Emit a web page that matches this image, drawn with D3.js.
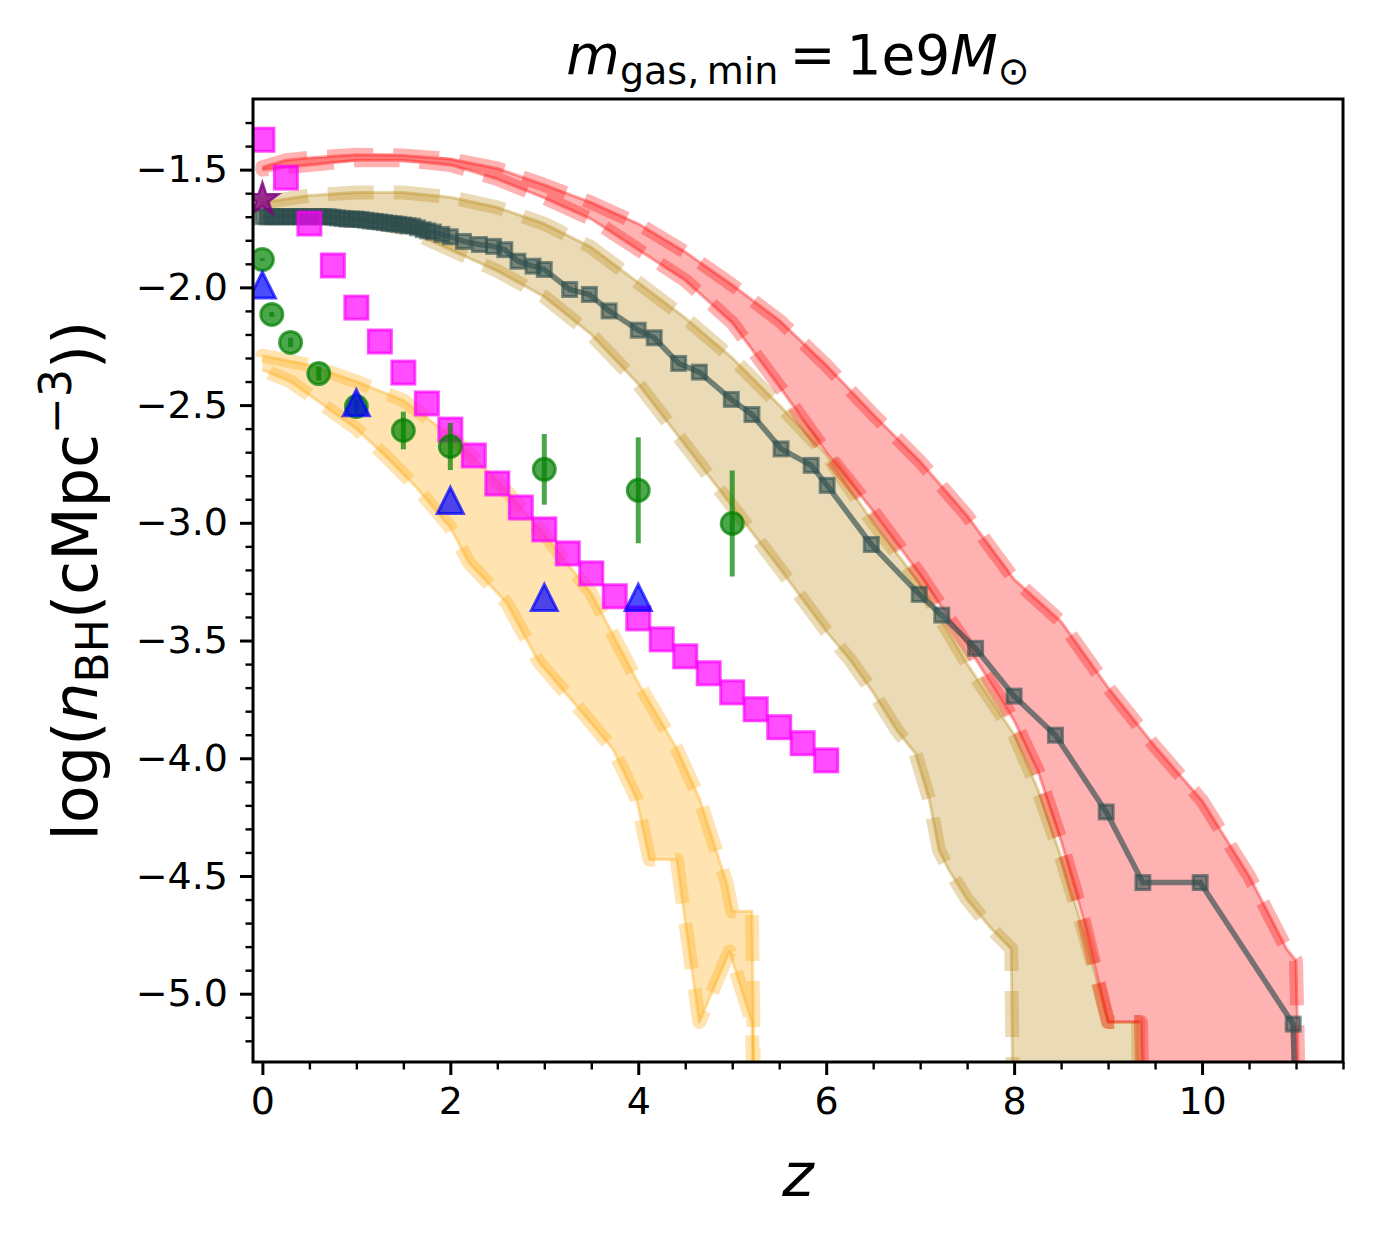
<!DOCTYPE html>
<html>
<head>
<meta charset="utf-8">
<script src="https://cdn.jsdelivr.net/npm/d3@7"></script>
<style>
  body { margin: 0; background: #fff; }
  text { font-family: "DejaVu Sans", sans-serif; }
</style>
</head>
<body>
<div id="chart"></div>
<script>
// band edges [z, log n]
const redUpper = [[0,-1.49],[0.25,-1.46],[0.5,-1.45],[1.0,-1.437],[1.5,-1.44],[2.0,-1.455],[2.5,-1.495],[3.0,-1.565],
  [3.5,-1.64],[4.0,-1.73],[4.5,-1.85],[5.0,-1.99],[5.5,-2.14],[6.0,-2.33],[6.5,-2.54],[7.0,-2.74],[7.5,-2.97],
  [8.0,-3.24],[8.5,-3.42],[9.0,-3.70],[9.5,-3.95],[10.0,-4.18],[10.5,-4.50],[10.9,-4.81],[11.0,-4.86],[11.06,-6.0]];
const redLower = [[0,-1.50],[0.5,-1.48],[1.0,-1.46],[1.5,-1.46],[2.0,-1.48],[2.5,-1.54],[3.0,-1.62],[3.5,-1.71],
  [4.0,-1.84],[4.5,-1.97],[5.0,-2.15],[5.5,-2.42],[6.0,-2.70],[6.5,-2.95],[7.0,-3.22],[7.5,-3.52],[8.0,-3.84],
  [8.25,-4.05],[8.5,-4.35],[8.75,-4.70],[9.0,-5.12],[9.35,-5.12],[9.4,-6.0]];
const tanUpper = [[0,-1.64],[0.5,-1.61],[1.0,-1.597],[1.5,-1.597],[2.0,-1.617],[2.5,-1.66],[3.0,-1.73],[3.5,-1.83],
  [4.0,-1.98],[4.5,-2.13],[5.0,-2.30],[5.5,-2.50],[6.0,-2.71],[6.5,-3.0],[7.0,-3.26],[7.5,-3.60],[8.0,-3.90],
  [8.25,-4.13],[8.5,-4.42],[8.75,-4.75],[9.0,-5.12],[9.32,-5.12],[9.33,-6.0]];
const tanLower = [[0,-1.70],[0.5,-1.70],[1.0,-1.71],[1.5,-1.75],[2.0,-1.84],[2.5,-1.93],[3.0,-2.04],[3.5,-2.20],
  [4.0,-2.41],[4.5,-2.67],[5.0,-2.93],[5.5,-3.19],[6.0,-3.46],[6.25,-3.58],[6.5,-3.72],[6.75,-3.88],[6.95,-3.98],
  [7.1,-4.18],[7.2,-4.39],[7.3,-4.47],[7.5,-4.60],[7.75,-4.72],[7.97,-4.81],[8.0,-6.0]];
const orangeUpper = [[0,-2.29],[0.5,-2.33],[1.0,-2.40],[1.5,-2.48],[2.0,-2.63],[2.5,-2.82],[3.0,-3.05],[3.5,-3.30],
  [4.0,-3.68],[4.41,-3.96],[4.65,-4.17],[4.94,-4.53],[5.0,-4.65],[5.21,-4.65],[5.25,-6.0]];
const orangeLower = [[0,-2.35],[0.3,-2.40],[1.0,-2.60],[1.32,-2.72],[1.64,-2.85],[2.0,-3.02],[2.2,-3.17],[2.6,-3.34],
  [2.94,-3.59],[3.35,-3.78],[3.73,-3.96],[3.98,-4.17],[4.12,-4.43],[4.41,-4.43],[4.54,-4.81],[4.65,-5.12],
  [4.97,-4.82],[5.21,-5.12],[5.25,-6.0]];

// simulation line (dense snapshots at low z)
const simLine = [[0,-1.70],[0.05,-1.70],[0.1,-1.70],[0.15,-1.70],[0.2,-1.70],[0.25,-1.70],[0.3,-1.70],[0.35,-1.70],
  [0.4,-1.70],[0.45,-1.70],[0.5,-1.70],[0.55,-1.70],[0.6,-1.70],[0.65,-1.70],[0.7,-1.70],[0.75,-1.702],[0.8,-1.705],
  [0.85,-1.707],[0.9,-1.71],[0.95,-1.71],[1.0,-1.71],[1.05,-1.712],[1.1,-1.715],[1.15,-1.718],[1.2,-1.72],
  [1.25,-1.722],[1.3,-1.725],[1.35,-1.728],[1.4,-1.73],[1.45,-1.732],[1.5,-1.735],[1.55,-1.738],[1.6,-1.74],
  [1.65,-1.747],[1.71,-1.755],[1.76,-1.76],[1.82,-1.765],[1.91,-1.775],[2.0,-1.785],[2.14,-1.805],[2.31,-1.818],
  [2.46,-1.826],[2.58,-1.84],[2.72,-1.889],[2.88,-1.91],[3.0,-1.924],[3.27,-2.009],[3.48,-2.03],[3.69,-2.10],
  [4.0,-2.182],[4.17,-2.214],[4.43,-2.323],[4.65,-2.36],[4.99,-2.476],[5.21,-2.54],[5.52,-2.686],[5.84,-2.756],
  [6.01,-2.841],[6.48,-3.092],[6.99,-3.304],[7.23,-3.392],[7.59,-3.533],[8.0,-3.736],[8.44,-3.902],[8.98,-4.228],
  [9.37,-4.528],[9.98,-4.528],[10.97,-5.129],[11.03,-6.0]];

// observational points
const magentaPts = [[0,-1.373],[0.25,-1.534],[0.5,-1.729],[0.75,-1.907],[1.0,-2.086],[1.25,-2.230],[1.5,-2.362],
  [1.75,-2.493],[2.0,-2.604],[2.25,-2.714],[2.5,-2.833],[2.75,-2.935],[3.0,-3.028],[3.25,-3.130],[3.5,-3.215],
  [3.75,-3.312],[4.0,-3.406],[4.25,-3.495],[4.5,-3.567],[4.75,-3.639],[5.0,-3.720],[5.25,-3.792],[5.5,-3.868],
  [5.75,-3.936],[6.0,-4.009]];
const greenZ = [0, 0.1, 0.3, 0.6, 1.0, 1.5, 2.0, 3.0, 4.0, 5.0];
const greenV = [-1.882, -2.115, -2.234, -2.366, -2.506, -2.608, -2.676, -2.773, -2.862, -3.003];
const greenErr = [0.005, 0.01, 0.02, 0.03, 0.03, 0.08, 0.10, 0.15, 0.225, 0.225];
const blueZ = [0, 1, 2, 3, 4];
const blueV = [-1.99, -2.49, -2.905, -3.317, -3.317];
const starPt = [[0, -1.627]];

const xTicks = [0, 2, 4, 6, 8, 10];
const yTicks = [-5.0, -4.5, -4.0, -3.5, -3.0, -2.5, -2.0, -1.5];

(function () {
    const margin = {left: 253, top: 99};
    const width = 1090, height = 963;

    let svg = d3.select("#chart")
        .append("svg")
        .attr("width", 1373)
        .attr("height", 1239)
        .style("background", "#fff");

    let g = svg.append("g")
        .attr("transform", `translate(${margin.left}, ${margin.top})`);

    let x = d3.scaleLinear().domain([-0.1, 11.5]).range([0, width]);
    let y = d3.scaleLinear().domain([-5.29, -1.2]).range([height, 0]);

    g.append("clipPath").attr("id", "clip")
        .append("rect").attr("width", width).attr("height", height);

    let plot = g.append("g").attr("clip-path", "url(#clip)");

    let line = d3.line().x(d => x(d[0])).y(d => y(d[1]));

    function band(upper, lower, color) {
        let poly = line(upper.concat(lower.slice().reverse())) + "Z";
        plot.append("path").attr("d", poly)
            .attr("fill", color).attr("fill-opacity", 0.3).attr("stroke", "none");
        [upper, lower].forEach(function (edge) {
            plot.append("path").attr("d", line(edge))
                .attr("fill", "none").attr("stroke", color)
                .attr("stroke-opacity", 0.35).attr("stroke-width", 3)
                .attr("stroke-linejoin", "round");
        });
        plot.append("path").attr("d", poly)
            .attr("fill", "none").attr("stroke", color)
            .attr("stroke-opacity", 0.3).attr("stroke-width", 14)
            .attr("stroke-dasharray", "46,20")
            .attr("stroke-linejoin", "round");
    }

    band(orangeUpper, orangeLower, "orange");
    band(tanUpper, tanLower, "darkgoldenrod");
    band(redUpper, redLower, "red");

    // simulation line with squares
    plot.append("path").attr("d", line(simLine))
        .attr("fill", "none").attr("stroke", "darkslategray")
        .attr("stroke-opacity", 0.65).attr("stroke-width", 5.5);
    plot.selectAll(".simsq").data(simLine).join("rect")
        .attr("class", "simsq")
        .attr("x", d => x(d[0]) - 7).attr("y", d => y(d[1]) - 7)
        .attr("width", 14).attr("height", 14)
        .attr("fill", "darkslategray").attr("fill-opacity", 0.6)
        .attr("stroke", "darkslategray").attr("stroke-opacity", 0.6).attr("stroke-width", 3);

    // magenta squares
    plot.selectAll(".mag").data(magentaPts).join("rect")
        .attr("class", "mag")
        .attr("x", d => x(d[0]) - 11.5).attr("y", d => y(d[1]) - 11.5)
        .attr("width", 23).attr("height", 23)
        .attr("fill", "magenta").attr("fill-opacity", 0.7)
        .attr("stroke", "magenta").attr("stroke-opacity", 0.7).attr("stroke-width", 3);

    // green points with error bars
    let greenData = greenZ.map((z, i) => ({z: z, v: greenV[i], e: greenErr[i]}));
    plot.selectAll(".gerr").data(greenData).join("line")
        .attr("class", "gerr")
        .attr("x1", d => x(d.z)).attr("x2", d => x(d.z))
        .attr("y1", d => y(d.v - d.e)).attr("y2", d => y(d.v + d.e))
        .attr("stroke", "green").attr("stroke-opacity", 0.7).attr("stroke-width", 5);
    plot.selectAll(".gpt").data(greenData).join("circle")
        .attr("class", "gpt")
        .attr("cx", d => x(d.z)).attr("cy", d => y(d.v)).attr("r", 11)
        .attr("fill", "green").attr("fill-opacity", 0.7)
        .attr("stroke", "green").attr("stroke-opacity", 0.7).attr("stroke-width", 3);

    // blue triangles
    let tri = 13;
    plot.selectAll(".btri").data(blueZ.map((z, i) => [z, blueV[i]])).join("path")
        .attr("class", "btri")
        .attr("d", d => {
            let cx = x(d[0]), cy = y(d[1]);
            return `M${cx},${cy - tri}L${cx - tri},${cy + tri}L${cx + tri},${cy + tri}Z`;
        })
        .attr("fill", "blue").attr("fill-opacity", 0.7)
        .attr("stroke", "blue").attr("stroke-opacity", 0.7).attr("stroke-width", 3)
        .attr("stroke-linejoin", "miter");

    // purple star
    plot.selectAll(".star").data(starPt).join("path")
        .attr("class", "star")
        .attr("transform", d => `translate(${x(d[0])}, ${y(d[1])})`)
        .attr("d", d3.symbol().type(d3.symbolStar).size(320))
        .attr("fill", "purple").attr("fill-opacity", 0.8)
        .attr("stroke", "purple").attr("stroke-opacity", 0.8).attr("stroke-width", 2.5);

    // axes
    let fmtY = d => d3.format(".1f")(d).replace("-", "\u2212");
    let xAxis = g.append("g").attr("transform", `translate(0, ${height})`)
        .call(d3.axisBottom(x).tickValues(xTicks).tickSize(13).tickPadding(12)
            .tickFormat(d3.format("d")));
    let xMinor = g.append("g").attr("transform", `translate(0, ${height})`)
        .call(d3.axisBottom(x).tickValues(d3.range(0, 11.51, 0.5).filter(v => v % 2 !== 0))
            .tickSize(7.5).tickFormat(""));
    let yAxis = g.append("g")
        .call(d3.axisLeft(y).tickValues(yTicks).tickSize(13).tickPadding(12).tickFormat(fmtY));
    let yMinor = g.append("g")
        .call(d3.axisLeft(y).tickValues(d3.range(-52, -12, 1).map(v => v / 10)
            .filter(v => Math.abs(v * 2 - Math.round(v * 2)) > 1e-6))
            .tickSize(7.5).tickFormat(""));

    [xAxis, xMinor, yAxis, yMinor].forEach(function (a) {
        a.select(".domain").remove();
        a.selectAll("line").attr("stroke", "#000");
        a.selectAll("text").attr("fill", "#000")
            .style("font-family", "DejaVu Sans").style("font-size", "38px");
    });
    [xAxis, yAxis].forEach(a => a.selectAll("line").attr("stroke-width", 3));
    [xMinor, yMinor].forEach(a => a.selectAll("line").attr("stroke-width", 2.4));

    g.append("rect").attr("width", width).attr("height", height)
        .attr("fill", "none").attr("stroke", "#000").attr("stroke-width", 3);

    // title
    let title = svg.append("text")
        .attr("x", margin.left + width / 2).attr("y", 74)
        .attr("text-anchor", "middle").style("font-size", "55px");
    title.append("tspan").style("font-style", "italic").text("m");
    title.append("tspan").style("font-size", "38px").attr("dy", 10).text("gas,\u2009min");
    title.append("tspan").attr("dy", -10).text("\u2009=\u20091e9");
    title.append("tspan").style("font-style", "italic").text("M");
    title.append("tspan").style("font-size", "38px").attr("dy", 10).text("\u2299");

    // x label
    svg.append("text")
        .attr("x", margin.left + width / 2).attr("y", 1196)
        .attr("text-anchor", "middle").style("font-size", "60px").style("font-style", "italic")
        .text("z");

    // y label
    let ylab = svg.append("text")
        .attr("transform", `translate(97, ${margin.top + height / 2}) rotate(-90)`)
        .attr("text-anchor", "middle").style("font-size", "62px");
    ylab.append("tspan").text("log(");
    ylab.append("tspan").style("font-style", "italic").text("n");
    ylab.append("tspan").style("font-size", "44px").attr("dy", 11).text("BH");
    ylab.append("tspan").attr("dy", -11).text("(cMpc");
    ylab.append("tspan").style("font-size", "44px").attr("dy", -26).text("\u22123");
    ylab.append("tspan").attr("dy", 26).text("))");
})();
</script>
</body>
</html>
